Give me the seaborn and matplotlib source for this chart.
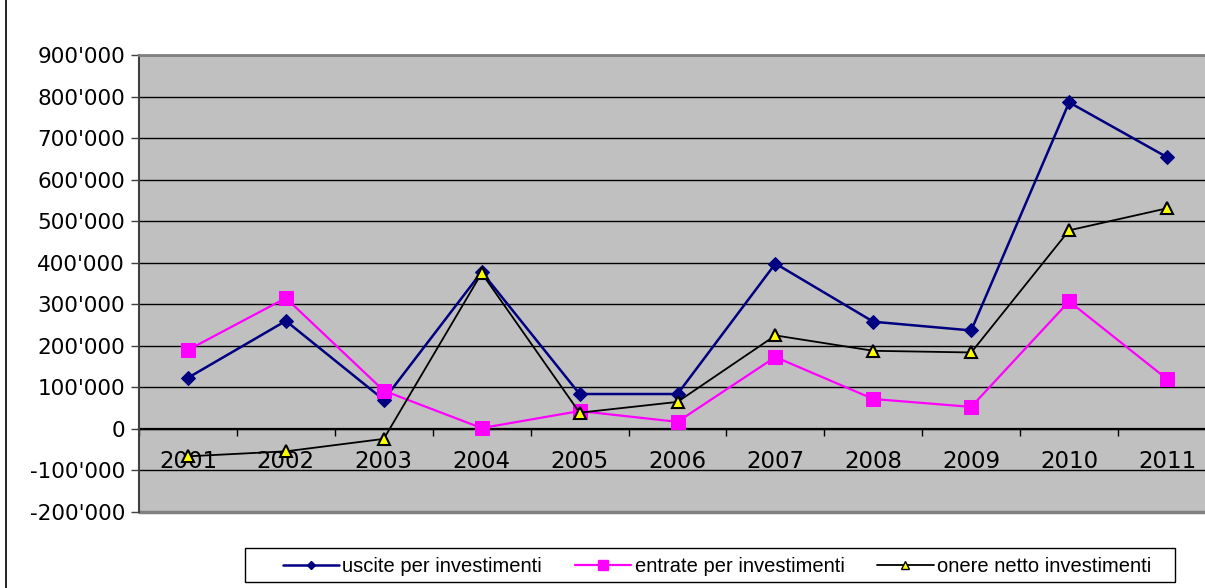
import numpy as np
import pandas as pd
import matplotlib
matplotlib.use("Agg")
import matplotlib.pyplot as plt
from matplotlib.ticker import FuncFormatter, FixedLocator
from matplotlib.lines import Line2D
from matplotlib.patches import Rectangle
import seaborn as sns

# === DATA ===
years = ["2001", "2002", "2003", "2004", "2005", "2006",
         "2007", "2008", "2009", "2010", "2011"]
uscite = [123000, 260000, 70000, 378000, 84000, 84000,
          398000, 258000, 237000, 786000, 654000]
entrate = [190000, 315000, 92000, 2000, 43000, 17000,
           173000, 72000, 53000, 307000, 120000]
onere = [-66000, -54000, -24000, 375000, 39000, 65000,
         225000, 188000, 184000, 478000, 531000]

labels = ["uscite per investimenti", "entrate per investimenti",
          "onere netto investimenti"]

pos = np.arange(len(years))
df = pd.DataFrame({"pos": pos, "uscite": uscite,
                   "entrate": entrate, "onere": onere})

# === STYLE ===
sns.set_style("white")
plt.rcParams["font.family"] = ["DejaVu Sans"]
plt.rcParams["text.color"] = "black"
plt.rcParams["xtick.color"] = "black"
plt.rcParams["ytick.color"] = "black"

fig = plt.figure(figsize=(12.05, 5.88), dpi=100)
ax = fig.add_axes([139 / 1205, 76 / 588, 1077 / 1205, 457 / 588])
ax.set_facecolor("#C0C0C0")

sns.lineplot(data=df, x="pos", y="uscite", ax=ax, color="#000080",
             linewidth=1.8, marker="D", markersize=7.5,
             markeredgecolor="#000080", zorder=3)
sns.lineplot(data=df, x="pos", y="entrate", ax=ax, color="#FF00FF",
             linewidth=1.6, marker="s", markersize=10,
             markeredgecolor="#FF00FF", zorder=4)
sns.lineplot(data=df, x="pos", y="onere", ax=ax, color="black",
             linewidth=1.3, marker="^", markersize=9,
             markerfacecolor="#FFFF00", markeredgecolor="black",
             markeredgewidth=1.5, zorder=5)

# === AXES ===
ax.set_xlim(-0.5, len(years) - 0.5)
ax.set_ylim(-200000, 900000)
ax.set_yticks(np.arange(-200000, 900001, 100000))
ax.yaxis.set_major_formatter(
    FuncFormatter(lambda v, p: "0" if v == 0 else f"{v:,.0f}".replace(",", "'")))
ax.tick_params(axis="y", direction="out", length=6, width=1, color="#404040",
               labelsize=15.5, labelcolor="black", pad=4, left=True)
ax.grid(axis="y", color="black", linewidth=1.0)
ax.set_axisbelow(True)

ax.spines["bottom"].set_position(("data", 0))
ax.spines["bottom"].set_color("black")
ax.spines["bottom"].set_linewidth(1.6)
ax.spines["bottom"].set_zorder(2)
ax.spines["left"].set_color("#404040")
ax.spines["left"].set_linewidth(1.5)
ax.spines["top"].set_color("#808080")
ax.spines["top"].set_linewidth(2)
ax.spines["right"].set_visible(False)
ax.axhline(-200000, color="#808080", linewidth=2.5, zorder=2, clip_on=False)

ax.set_xticks(pos, years)
ax.xaxis.set_minor_locator(FixedLocator(np.arange(-0.5, len(years), 1.0)))
ax.tick_params(axis="x", which="major", length=0, labelsize=16.5,
               labelcolor="black", pad=15)
ax.tick_params(axis="x", which="minor", direction="out", length=5, width=1,
               color="black", bottom=True)
ax.set_xlabel("")
ax.set_ylabel("")

# === LEGEND ===
handles = [
    Line2D([], [], color="#000080", linewidth=1.8, marker="D", markersize=4),
    Line2D([], [], color="#FF00FF", linewidth=1.6, marker="s", markersize=7),
    Line2D([], [], color="black", linewidth=1.3, marker="^", markersize=6,
           markerfacecolor="#FFFF00", markeredgecolor="black"),
]
leg = fig.legend(handles, labels, loc="lower left", ncol=3, mode="expand",
                 bbox_to_anchor=(277 / 1205, 1 - 582 / 588, 880 / 1205, 33 / 588),
                 frameon=False, handlelength=2.8, handletextpad=0.15,
                 columnspacing=1.6, borderpad=0.3, borderaxespad=0,
                 prop={"family": ["Liberation Sans"], "size": 14.5})
fig.add_artist(Rectangle((245 / 1205, 1 - 582 / 588), 930 / 1205, 34 / 588,
                         transform=fig.transFigure, facecolor="none",
                         edgecolor="black", linewidth=1.0))

# outer chart border
fig.add_artist(Line2D([6 / 1205, 6 / 1205], [0, 1], color="black",
                      linewidth=1.2, transform=fig.transFigure))

plt.savefig("out.png", dpi=100)
